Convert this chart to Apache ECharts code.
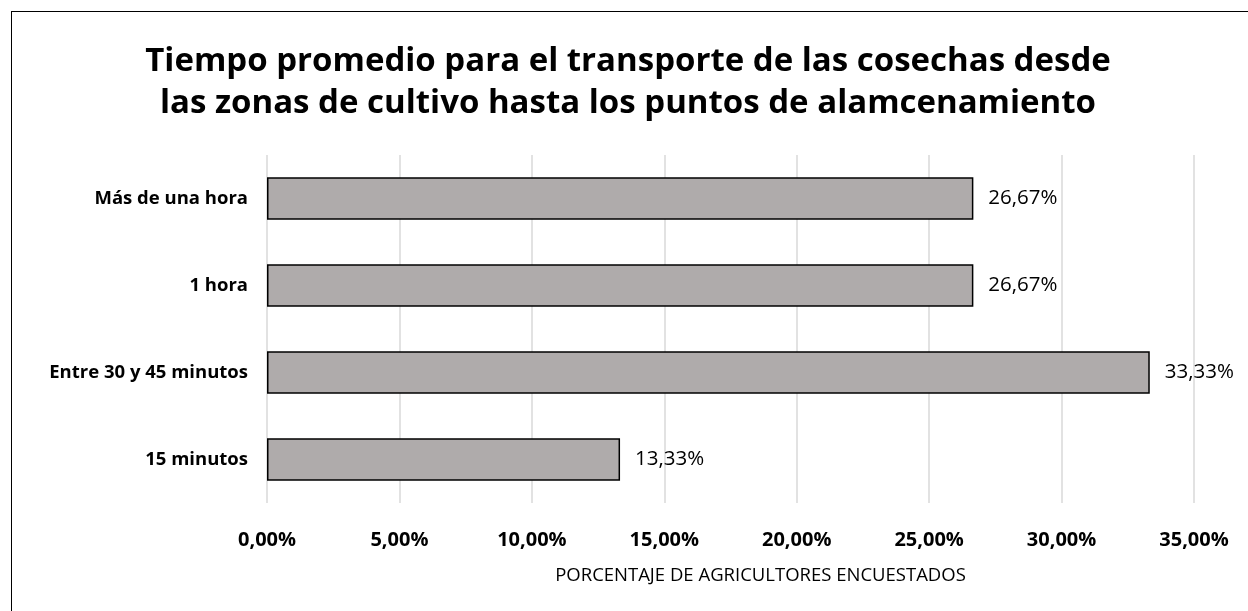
<!DOCTYPE html>
<html>
<head>
<meta charset="utf-8">
<script src="https://cdn.jsdelivr.net/npm/echarts@6/dist/echarts.min.js"></script>
<style>
  html, body { margin: 0; padding: 0; background: #fff; overflow: hidden; }
  #chart { width: 1248px; height: 611px; }
  .frame {
    position: absolute; left: 11px; top: 11px;
    width: 1260px; height: 620px;
    border: 1px solid #000; pointer-events: none;
  }
</style>
</head>
<body>
<div id="chart"></div>
<div class="frame"></div>
<script>
// bottom to top, as echarts draws category axes
const categories = ['15 minutos', 'Entre 30 y 45 minutos', '1 hora', 'Más de una hora']
const percentages = [13.33, 33.33, 26.67, 26.67]
const xTicks = { min: 0, max: 35, interval: 5 }

const fontFamily = "'Open Sans', 'Noto Sans', sans-serif"
const fmt = (v) => v.toFixed(2).replace('.', ',') + '%'

const chart = echarts.init(document.getElementById('chart'))

chart.setOption({
  backgroundColor: '#fff',
  animation: false,
  title: {
    text: 'Tiempo promedio para el transporte de las cosechas desde\nlas zonas de cultivo hasta los puntos de alamcenamiento',
    left: 623,
    top: 36,
    textAlign: 'center',
    textStyle: {
      fontFamily,
      fontSize: 33,
      fontWeight: 'bold',
      color: '#000',
      lineHeight: 42,
    },
  },
  grid: { left: 267, right: 54, top: 155, bottom: 108 },
  xAxis: {
    type: 'value',
    min: xTicks.min,
    max: xTicks.max,
    interval: xTicks.interval,
    name: 'PORCENTAJE DE AGRICULTORES ENCUESTADOS',
    nameLocation: 'middle',
    nameGap: 63,
    nameTextStyle: { fontFamily, fontSize: 18.5, color: '#000', padding: [0, 0, 0, 60] },
    axisLine: { show: false },
    axisTick: { show: false },
    axisLabel: {
      formatter: fmt,
      margin: 27,
      fontFamily,
      fontSize: 20,
      fontWeight: 'bold',
      color: '#000',
    },
    splitLine: { lineStyle: { color: '#d9d9d9', width: 1.5 } },
  },
  yAxis: {
    type: 'category',
    data: categories,
    axisLine: { show: false },
    axisTick: { show: false },
    axisLabel: {
      margin: 19,
      fontFamily,
      fontSize: 18.5,
      fontWeight: 'bold',
      color: '#000',
    },
  },
  series: [
    {
      type: 'bar',
      data: percentages,
      barWidth: '49%',
      itemStyle: { color: '#afabab', borderColor: '#000', borderWidth: 1.5 },
      label: {
        show: true,
        position: 'right',
        distance: 15,
        formatter: (p) => fmt(p.value),
        fontFamily,
        fontSize: 20.5,
        color: '#000',
      },
    },
  ],
})
</script>
</body>
</html>
